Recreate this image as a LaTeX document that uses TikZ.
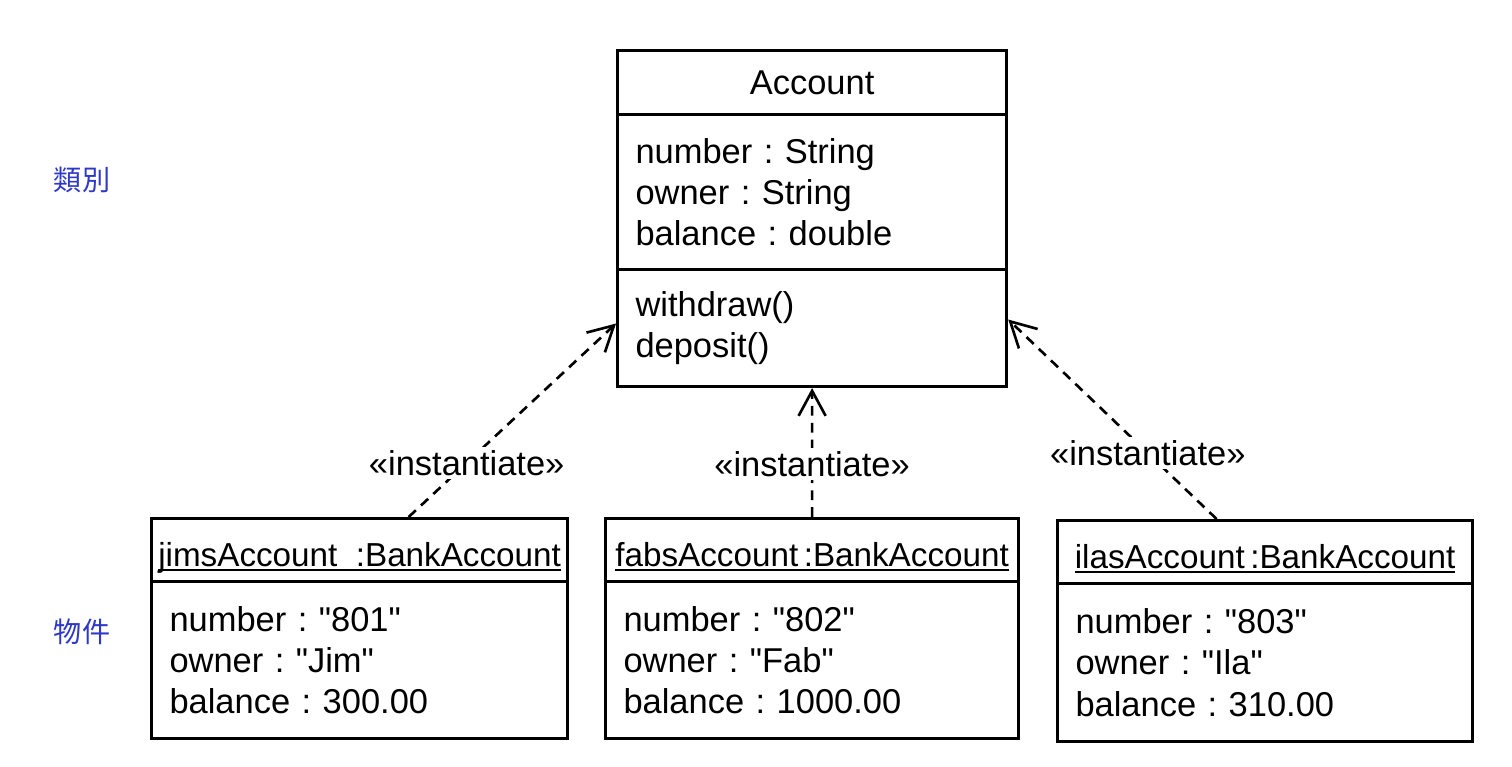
\documentclass[tikz,border=0pt]{standalone}
\usepackage{fontspec}
\setmainfont{Liberation Sans}
\newfontfamily\cjk{Noto Sans CJK TC}
\usetikzlibrary{arrows.meta}
\definecolor{labelblue}{RGB}{45,55,200}
\frenchspacing
\newcommand\objname[1]{\setbox0\hbox{#1}\rlap{\rule[-1.2pt]{\wd0}{0.5pt}}\box0}
\tikzset{
    box/.style={draw, line width=0.85pt, anchor=north west, inner ysep=0pt, font=\fontsize{9.8}{11.7}\selectfont},
    head/.style={box, inner xsep=1pt, font=\fontsize{9.45}{11.7}\selectfont, text height=0.40cm, text depth=0.07cm},
    body/.style={box, inner xsep=0.18cm, align=left},
    inst/.style={line width=0.75pt, dash pattern=on 2.8pt off 2pt, -{Straight Barb[length=0.25cm, width=0.27cm]}},
    stereo/.style={fill=white, inner sep=1pt, font=\fontsize{9.8}{11.7}\selectfont},
    side/.style={text=labelblue, font=\cjk\fontsize{8}{9}\selectfont}
}

\begin{document}
\begin{tikzpicture}[x=0.01cm, y=-0.01cm]
    \useasboundingbox (0,0) rectangle (1512,767);

    \node[side] (cls) at (82,180) {類別};
    \node[side] (obj) at (82,632) {物件};

    \node[box, inner xsep=1pt, minimum width=3.89cm, minimum height=0.64cm] (acc) at (616,49) {Account};
    \node[body, text width=3.53cm, minimum height=1.55cm] (accattr) at (616,113)
        {number : String\\owner : String\\balance : double};
    \node[body, text width=3.53cm, minimum height=1.17cm] (accops) at (616,268)
        {withdraw()\\deposit()};

    \node[head, minimum width=4.16cm, minimum height=0.63cm] (jimh) at (150,517) {\objname{jimsAccount~~:BankAccount}};
    \node[body, text width=3.80cm, minimum height=1.57cm] (jimb) at (150,580)
        {number : \textquotedbl801\textquotedbl\\owner : \textquotedbl Jim\textquotedbl\\balance : 300.00};

    \node[head, minimum width=4.13cm, minimum height=0.63cm] (fabh) at (604,517) {\objname{fabsAccount\,:BankAccount}};
    \node[body, text width=3.77cm, minimum height=1.57cm] (fabb) at (604,580)
        {number : \textquotedbl802\textquotedbl\\owner : \textquotedbl Fab\textquotedbl\\balance : 1000.00};

    \node[head, minimum width=4.15cm, minimum height=0.63cm] (ilah) at (1056,519) {\objname{ilasAccount\,:BankAccount}};
    \node[body, text width=3.79cm, minimum height=1.58cm] (ilab) at (1056,582)
        {number : \textquotedbl803\textquotedbl\\owner : \textquotedbl Ila\textquotedbl\\balance : 310.00};

    \draw[inst] ([xshift=0.49cm]jimh.north) -- node[stereo, pos=0.28] {«instantiate»} ([yshift=0.045cm]accops.west);
    \draw[inst] (fabh.north) -- node[stereo, pos=0.41] {«instantiate»} (accops.south);
    \draw[inst] ([xshift=-0.485cm]ilah.north) -- node[stereo, pos=0.33] {«instantiate»} ([yshift=0.085cm]accops.east);
\end{tikzpicture}
\end{document}
